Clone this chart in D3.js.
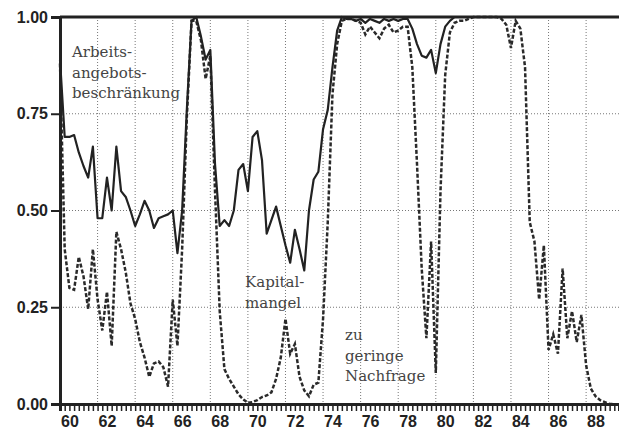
<!DOCTYPE html>
<html>
<head>
<meta charset="utf-8">
<script src="https://cdn.jsdelivr.net/npm/d3@7"></script>
<style>
body { margin: 0; background: #fff; }
svg { display: block; }
.tick text { font-family: "Liberation Sans", Arial, sans-serif; font-weight: bold; font-size: 16px; fill: #222; }
.grid line { stroke: #777; stroke-width: 1; stroke-dasharray: 1,2; }
</style>
</head>
<body>
<div id="main_div"></div>
<script>
// quarterly values, starting 1960 Q1
var startYear = 60;
var solid = [
  0.89, 0.69, 0.69, 0.695,
  0.65, 0.615, 0.585, 0.665,
  0.48, 0.48, 0.585, 0.50,
  0.665, 0.55, 0.535, 0.50,
  0.46, 0.49, 0.525, 0.50,
  0.455, 0.48, 0.485, 0.49,
  0.50, 0.39, 0.50, 0.76,
  0.99, 1.0, 0.95, 0.89,
  0.915, 0.62, 0.46, 0.475,
  0.46, 0.50, 0.605, 0.62,
  0.55, 0.69, 0.705, 0.63,
  0.44, 0.475, 0.51, 0.46,
  0.41, 0.365, 0.45, 0.40,
  0.345, 0.50, 0.58, 0.60,
  0.71, 0.76, 0.87, 0.965,
  1.0, 0.995, 0.995, 0.99,
  0.995, 0.985, 0.995, 0.99,
  0.985, 0.995, 0.99, 0.995,
  0.99, 0.995, 0.995, 0.97,
  0.93, 0.90, 0.895, 0.915,
  0.855, 0.93, 0.975, 0.99,
  1.0, 1.0, 1.0, 1.0,
  1.0, 1.0, 1.0, 1.0,
  1.0, 1.0, 1.0, 1.0,
  1.0, 1.0, 1.0, 1.0,
  1.0, 1.0, 1.0, 1.0,
  1.0, 1.0, 1.0, 1.0,
  1.0, 1.0, 1.0, 1.0,
  1.0, 1.0, 1.0, 1.0,
  1.0, 1.0, 1.0, 1.0,
  1.0, 1.0, 1.0
];
var dashed = [
  0.88, 0.40, 0.30, 0.295,
  0.38, 0.33, 0.245, 0.40,
  0.27, 0.19, 0.29, 0.15,
  0.445, 0.40, 0.34, 0.26,
  0.22, 0.16, 0.12, 0.07,
  0.105, 0.11, 0.095, 0.045,
  0.27, 0.15, 0.40, 0.74,
  0.99, 0.99, 0.94, 0.84,
  0.90, 0.55, 0.24, 0.09,
  0.065, 0.045, 0.025, 0.012,
  0.003, 0.005, 0.01, 0.018,
  0.022, 0.03, 0.065, 0.12,
  0.22, 0.13, 0.155, 0.07,
  0.035, 0.02, 0.05, 0.055,
  0.22, 0.47, 0.80, 0.93,
  0.99, 0.995, 0.995, 0.99,
  0.985, 0.955, 0.975, 0.96,
  0.945, 0.97, 0.98, 0.96,
  0.965, 0.975, 0.975, 0.87,
  0.62, 0.35, 0.17, 0.42,
  0.08, 0.55, 0.85, 0.96,
  0.985, 0.99, 0.99, 0.995,
  1.0, 1.0, 1.0, 1.0,
  1.0, 1.0, 0.995, 0.98,
  0.92, 0.99, 0.97, 0.87,
  0.47, 0.42, 0.27, 0.41,
  0.14, 0.18, 0.13, 0.35,
  0.17, 0.24, 0.16, 0.23,
  0.10, 0.04, 0.02, 0.01,
  0.005, 0.0, 0.0
];
var yearLabels = [60, 62, 64, 66, 68, 70, 72, 74, 76, 78, 80, 82, 84, 86, 88];
var gridYears = [62, 64, 66, 68, 70, 72, 74, 76, 78, 80, 82, 84, 86, 88];
var yTicks = [0, 0.25, 0.5, 0.75, 1];
var notes = [
  {lines: ["Arbeits-", "angebots-", "beschränkung"], x: 72, y: 57},
  {lines: ["Kapital-", "mangel"], x: 245, y: 287},
  {lines: ["zu", "geringe", "Nachfrage"], x: 345, y: 340}
];

var x_scale = d3.scaleLinear().domain([60, 89.75]).range([60, 619]);
var y_scale = d3.scaleLinear().domain([0, 1]).range([404, 17]);

var svg = d3.select("#main_div").append("svg").attr("width", 619).attr("height", 432);

// grid
svg.append("g").attr("class", "grid").selectAll("line").data(gridYears).enter().append("line")
  .attr("x1", function(d) { return x_scale(d); }).attr("x2", function(d) { return x_scale(d); })
  .attr("y1", y_scale(1)).attr("y2", y_scale(0));
svg.append("g").attr("class", "grid").selectAll("line").data([0.25, 0.5, 0.75]).enter().append("line")
  .attr("x1", x_scale(60)).attr("x2", 619)
  .attr("y1", function(d) { return y_scale(d); }).attr("y2", function(d) { return y_scale(d); });

var t = function(i) { return startYear + i / 4; };

var lineA = d3.line().x(function(d, i) { return x_scale(t(i)); }).y(function(d) { return y_scale(d); });

svg.append("path").datum(dashed).attr("d", lineA)
  .attr("fill", "none").attr("stroke", "#2a2a2a").attr("stroke-width", 2.5)
  .attr("stroke-dasharray", "4,2");
svg.append("path").datum(solid).attr("d", lineA)
  .attr("fill", "none").attr("stroke", "#222").attr("stroke-width", 2.2)
  .attr("stroke-linejoin", "round");

// frame
svg.append("line").attr("x1", x_scale(60)).attr("x2", 619).attr("y1", y_scale(1)).attr("y2", y_scale(1))
  .attr("stroke", "#222").attr("stroke-width", 3);

// y axis
var g_y = svg.append("g").attr("transform", "translate(" + x_scale(60) + ",0)")
  .call(d3.axisLeft(y_scale).tickValues(yTicks).tickFormat(d3.format(".2f")).tickSize(9).tickPadding(3));
g_y.select(".domain").attr("stroke", "#222").attr("stroke-width", 3);
g_y.selectAll(".tick line").attr("stroke", "#222").attr("stroke-width", 2);

// x axis: quarterly minor ticks
var quarters = d3.range(0, 120).map(t);
var g_x = svg.append("g").attr("transform", "translate(0," + y_scale(0) + ")")
  .call(d3.axisBottom(x_scale).tickValues(quarters).tickSize(7).tickFormat(""));
g_x.select(".domain").attr("stroke", "#222").attr("stroke-width", 3);
g_x.selectAll(".tick line").attr("stroke", "#222").attr("stroke-width", 1.5);

var g_x2 = svg.append("g").attr("transform", "translate(0," + y_scale(0) + ")")
  .call(d3.axisBottom(x_scale).tickValues(yearLabels.map(function(d) { return d + 0.5; }))
    .tickSize(0).tickPadding(12).tickFormat(function(d) { return Math.floor(d); }));
g_x2.select(".domain").remove();

// annotations
notes.forEach(function(n) {
  var tx = svg.append("text").attr("x", n.x).attr("y", n.y)
    .attr("font-family", "'DejaVu Serif', 'Liberation Serif', serif")
    .attr("font-size", 15).attr("fill", "#444");
  n.lines.forEach(function(s, i) {
    tx.append("tspan").attr("x", n.x).attr("dy", i === 0 ? 0 : 20.5).text(s);
  });
});
</script>
</body>
</html>
